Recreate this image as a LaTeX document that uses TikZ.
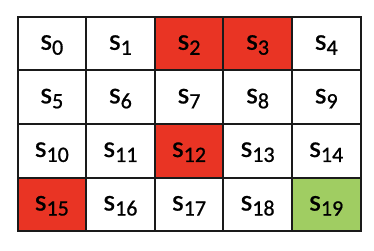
\documentclass[tikz,border=0pt]{standalone}
\usepackage{fontspec}
\setmainfont{Carlito}
\newfontfamily\cellfont{Carlito}[FakeBold=0.8]
\definecolor{cellred}{RGB}{233,52,36}
\definecolor{cellgreen}{RGB}{160,205,98}
\definecolor{gridline}{RGB}{26,26,26}
\newcommand{\stlabel}[1]{{\cellfont\fontsize{30}{30}\selectfont s}\raisebox{-5pt}{\cellfont\fontsize{22}{22}\selectfont #1}}
\begin{document}
\begin{tikzpicture}[x=1pt,y=-1pt,
  cell/.style={draw=gridline,line width=2pt,minimum width=68.6pt,minimum height=53.6pt,inner sep=0pt,anchor=center},
  redcell/.style={cell,fill=cellred},
  greencell/.style={cell,fill=cellgreen}]
\useasboundingbox (0,0) rectangle (374,250);
\foreach \r in {0,...,3}{
  \foreach \c in {0,...,4}{
    \pgfmathtruncatemacro{\n}{\r*5+\c}
    \def\sty{cell}
    \ifnum\n=2 \def\sty{redcell}\fi
    \ifnum\n=3 \def\sty{redcell}\fi
    \ifnum\n=12 \def\sty{redcell}\fi
    \ifnum\n=15 \def\sty{redcell}\fi
    \ifnum\n=19 \def\sty{greencell}\fi
    \node[\sty] (s\n) at ({17.5+68.6*\c+34.3},{16.7+53.6*\r+26.8}) {};
    \node[text=black] (t\n) at ([yshift=-1.5pt]s\n.center) {\stlabel{\n}};
  }
}
\end{tikzpicture}
\end{document}
